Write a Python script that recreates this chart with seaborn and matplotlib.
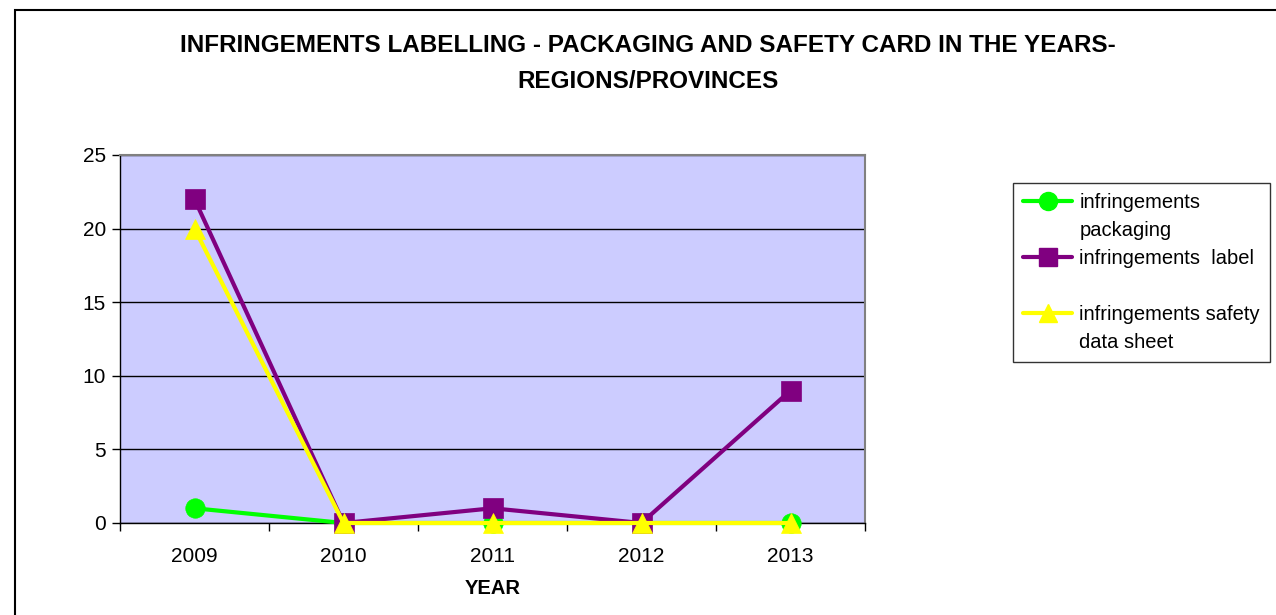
import matplotlib
matplotlib.use("Agg")
import matplotlib.pyplot as plt
import seaborn as sns
import pandas as pd
from matplotlib.lines import Line2D
from matplotlib.patches import Rectangle

years = ["2009", "2010", "2011", "2012", "2013"]
packaging = [1, 0, 0, 0, 0]
label = [22, 0, 1, 0, 9]
safety = [20, 0, 0, 0, 0]

series_names = ["infringements packaging", "infringements  label", "infringements safety data sheet"]
series_values = [packaging, label, safety]
colors = ["#00FF00", "#800080", "#FFFF00"]
markers = ["o", "s", "^"]

sns.set_theme(style="white")
plt.rcParams["font.family"] = ["Liberation Sans", "DejaVu Sans"]

fig = plt.figure(figsize=(12.76, 6.15), dpi=100)
ax = fig.add_axes([120/1276, 1-523/615, (865-120)/1276, (523-155)/615])
ax.set_facecolor("#CCCCFF")

rows = []
for name, vals in zip(series_names, series_values):
    for i, v in enumerate(vals):
        rows.append({"series": name, "x": i, "value": v})
df = pd.DataFrame(rows)

for name, c, m in zip(series_names, colors, markers):
    sub = df[df["series"] == name]
    sns.lineplot(data=sub, x="x", y="value", ax=ax, color=c, marker=m,
                 markersize=14, linewidth=3, markeredgecolor=c,
                 markeredgewidth=0.5, legend=False, zorder=3, clip_on=False)

ax.set_xlim(-0.5, 4.5)
ax.set_ylim(0, 25)
ax.set_yticks([0, 5, 10, 15, 20, 25])
ax.yaxis.grid(True, color="black", linewidth=1)
ax.xaxis.grid(False)
ax.set_axisbelow(True)

ax.set_xticks([-0.5, 0.5, 1.5, 2.5, 3.5, 4.5])
ax.set_xticklabels([])
ax.set_xticks(range(len(years)), minor=True)
ax.set_xticklabels(years, minor=True)
ax.tick_params(axis="x", which="major", direction="out", length=6, width=1, color="black", bottom=True)
ax.tick_params(axis="x", which="minor", length=0, pad=17, labelsize=15, labelcolor="black")
ax.tick_params(axis="y", which="major", direction="out", length=6, width=1, color="black", left=True, labelsize=15, labelcolor="black", pad=4)

for s in ["left", "bottom"]:
    ax.spines[s].set_color("black")
    ax.spines[s].set_linewidth(1)
for s in ["top", "right"]:
    ax.spines[s].set_color("#808080")
    ax.spines[s].set_linewidth(1.5)

ax.set_xlabel("YEAR", fontsize=14.5, fontweight="bold", color="black", labelpad=10)
ax.set_ylabel("")

fig.text(648/1276, 1-45/615, "INFRINGEMENTS LABELLING - PACKAGING AND SAFETY CARD IN THE YEARS-",
         ha="center", va="center", fontsize=17.5, fontweight="bold", color="black")
fig.text(648/1276, 1-81/615, "REGIONS/PROVINCES",
         ha="center", va="center", fontsize=17.5, fontweight="bold", color="black")

# Legend: one row per text line
blank = Line2D([], [], linestyle="none", marker=None)
handles = [
    Line2D([], [], color=colors[0], marker=markers[0], markersize=13, linewidth=3, markeredgecolor=colors[0]),
    blank,
    Line2D([], [], color=colors[1], marker=markers[1], markersize=13, linewidth=3, markeredgecolor=colors[1]),
    blank,
    Line2D([], [], color=colors[2], marker=markers[2], markersize=13, linewidth=3, markeredgecolor=colors[2]),
    blank,
]
labels = ["infringements", "packaging", "infringements  label", " ", "infringements safety", "data sheet"]
leg = fig.legend(handles, labels, loc="upper left",
                 bbox_to_anchor=(1013/1276, 1-183/615), frameon=True, fancybox=False,
                 fontsize=14.5, handlelength=2.45, handletextpad=0.35, labelspacing=0.45,
                 borderpad=0.5, borderaxespad=0)
leg.get_frame().set_edgecolor("black")
leg.get_frame().set_linewidth(1)
for t in leg.get_texts():
    t.set_color("black")

# outer chart border
fig.add_artist(Rectangle((15/1276, -0.05), 1.1, (615-10)/615 + 0.05, transform=fig.transFigure,
                         fill=False, edgecolor="black", linewidth=1.5))

fig.savefig("out.png", dpi=100, facecolor="white")
